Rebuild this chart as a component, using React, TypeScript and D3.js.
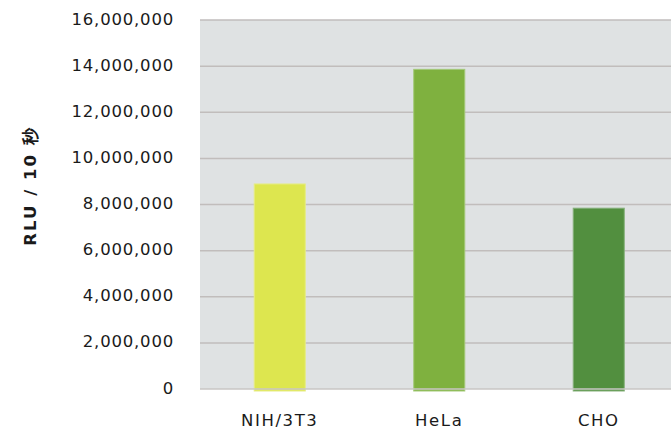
import React from "react";
import * as d3 from "d3";

const categories = ["NIH/3T3", "HeLa", "CHO"];
const values = [8890000, 13860000, 7840000];
const barColors = ["#dde64f", "#7fb13f", "#528f3f"];
const barStrokes = ["#e6ec85", "#a3c978", "#85b07a"];
const yTicks = [0, 2000000, 4000000, 6000000, 8000000, 10000000, 12000000, 14000000, 16000000];
const yTitle = "RLU / 10  秒";

const W = 671;
const H = 432;
const plot = { left: 200, top: 20, bottom: 389, right: 678.5 };

export default function App() {
  const y = d3.scaleLinear().domain([0, 16000000]).range([plot.bottom, plot.top]);
  const x = d3
    .scaleBand<string>()
    .domain(categories)
    .range([plot.left, plot.right])
    .paddingInner(0.68)
    .paddingOuter(0.34);
  const fmt = d3.format(",");
  const font = "'DejaVu Sans', Verdana, sans-serif";

  return (
    <div style={{ position: "fixed", left: 0, top: 0 }}>
      <svg width={W} height={H} style={{ display: "block", background: "#fff" }}>
        <rect
          x={plot.left}
          y={plot.top}
          width={plot.right - plot.left}
          height={plot.bottom - plot.top}
          fill="#dfe2e3"
        />
        {yTicks.map((t) => (
          <g key={t}>
            {t > 0 && (
              <line
                x1={plot.left}
                x2={plot.right}
                y1={y(t)}
                y2={y(t)}
                stroke="#c1bdbc"
                strokeWidth={1.5}
              />
            )}
            <text
              x={174}
              y={y(t) - 1}
              textAnchor="end"
              dominantBaseline="central"
              fontFamily={font}
              fontSize={16.5}
              letterSpacing={0.8}
              fill="#1a1a1a"
            >
              {fmt(t)}
            </text>
          </g>
        ))}
        {categories.map((c, i) => (
          <rect
            key={c}
            x={x(c)}
            y={y(values[i])}
            width={x.bandwidth()}
            height={y(0) - y(values[i]) + 2}
            fill={barColors[i]}
            stroke={barStrokes[i]}
            strokeWidth={1}
          />
        ))}
        <line
          x1={plot.left}
          x2={plot.right}
          y1={y(0)}
          y2={y(0)}
          stroke="#c8c6c4"
          strokeWidth={1.5}
        />
        {categories.map((c) => (
          <text
            key={c}
            x={(x(c) ?? 0) + x.bandwidth() / 2}
            y={426}
            textAnchor="middle"
            fontFamily={font}
            fontSize={16.5}
            letterSpacing={1.6}
            fill="#1a1a1a"
          >
            {c}
          </text>
        ))}
        <text
          transform={`translate(30, 186) rotate(-90)`}
          textAnchor="middle"
          dominantBaseline="central"
          fontFamily={font}
          fontWeight="bold"
          fontSize={16.5}
          letterSpacing={2}
          fill="#1a1a1a"
        >
          {yTitle}
        </text>
      </svg>
    </div>
  );
}
